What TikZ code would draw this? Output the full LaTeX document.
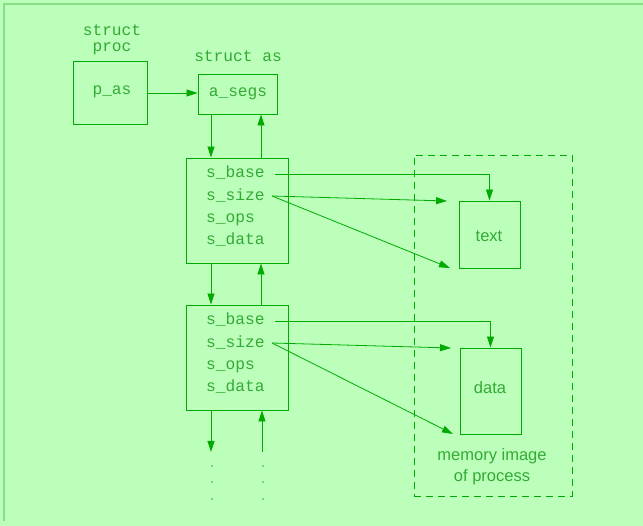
\documentclass[tikz,border=0pt]{standalone}
\usepackage{fontspec}
\newfontfamily\arialfont{Liberation Sans}
\newfontfamily\courfont{Liberation Mono}
\usetikzlibrary{arrows.meta}
\definecolor{bg}{HTML}{BBFFBB}
\definecolor{frame}{HTML}{88DD88}
\definecolor{ln}{HTML}{00AA00}
\definecolor{tx}{HTML}{33AA33}
\tikzset{
  box/.style={draw=ln, line width=0.9pt, inner sep=0pt},
  lbl/.style={text=tx, font=\courfont\fontsize{16.2}{16.5}\selectfont, inner sep=0pt},
  sans/.style={text=tx, font=\arialfont\fontsize{16.5}{21}\selectfont, inner sep=0pt, align=center},
  conn/.style={draw=ln, line width=0.8pt, -{Triangle[length=11pt,width=7pt]}},
  dotstyle/.style={fill=tx, circle, inner sep=0pt, minimum size=1.6pt},
}
\begin{document}
\begin{tikzpicture}[x=1pt,y=-1pt]
\fill[bg] (0,0) rectangle (643,526);
\useasboundingbox (0,0) rectangle (643,526);
\draw[frame, line width=2pt] (4,521) -- (4,4) -- (643,4);

% struct proc
\node[lbl, anchor=base] (sp1) at (112,36) {struct};
\node[lbl, anchor=base] (sp2) at (112,52) {proc};
\node[box, minimum width=74pt, minimum height=63pt] (pas) at (110,92.5) {};
\node[lbl, anchor=base] (pastx) at (112,95) {p\_as};
\node[lbl, anchor=base] (sas) at (238,62) {struct as};
\node[box, minimum width=79pt, minimum height=40pt] (aseg) at (237.5,94) {};
\node[lbl, anchor=base] (asegtx) at (238,97) {a\_segs};
\draw[conn] (pas.east |- 0,93) coordinate (c0) -- (aseg.west |- c0);

% segment boxes
\node[box, minimum width=102pt, minimum height=105pt] (s1) at (237,210.5) {};
\node[box, minimum width=102pt, minimum height=105pt] (s2) at (237,357.5) {};
\foreach \b/\y in {1/178,2/325}{
  \node[lbl, anchor=base west] (b\b) at (206,\y) {s\_base};
  \node[lbl, anchor=base west] (z\b) at (206,\y+22.3) {s\_size};
  \node[lbl, anchor=base west] (o\b) at (206,\y+44.6) {s\_ops};
  \node[lbl, anchor=base west] (d\b) at (206,\y+67) {s\_data};
}
\draw[conn] (aseg.south -| 211,0) -- (s1.north -| 211,0);
\draw[conn] (s1.north -| 261,0) -- (aseg.south -| 261,0);
\draw[conn] (s1.south -| 211,0) -- (s2.north -| 211,0);
\draw[conn] (s2.north -| 261,0) -- (s1.south -| 261,0);
\coordinate (downend) at (211,452);
\coordinate (upstart) at (262,452);
\draw[conn] (s2.south -| 211,0) -- (downend);
\draw[conn] (upstart) -- (s2.south -| 262,0);
\foreach \y in {466,482,499}{
  \node[dotstyle] at (212,\y) {};
  \node[dotstyle] at (263,\y) {};
}

% memory image
\node[draw=ln, dashed, dash pattern=on 7pt off 5pt, line width=0.9pt, minimum width=158pt, minimum height=341pt, inner sep=0pt] (mem) at (493,325.5) {};
\node[box, minimum width=61pt, minimum height=67pt] (text) at (489.5,234.5) {};
\node[sans] at (489,236) {text};
\node[box, minimum width=61pt, minimum height=86pt] (data) at (490.5,391) {};
\node[sans] at (490,388) {data};
\node[sans] (memlbl) at (492,467) {memory image\\of process};

% connectors
\coordinate (bs1) at (275,174);
\coordinate (zs1) at (272,196);
\coordinate (bs2) at (275,321);
\coordinate (zs2) at (272,343);
\draw[conn] (bs1) -| (text.north);
\draw[conn] (zs1) -- (447,201);
\draw[conn] (zs1) -- (450,268);
\draw[conn] (bs2) -| (data.north);
\draw[conn] (zs2) -- (451,348);
\draw[conn] (zs2) -- (453,434);
\end{tikzpicture}
\end{document}
